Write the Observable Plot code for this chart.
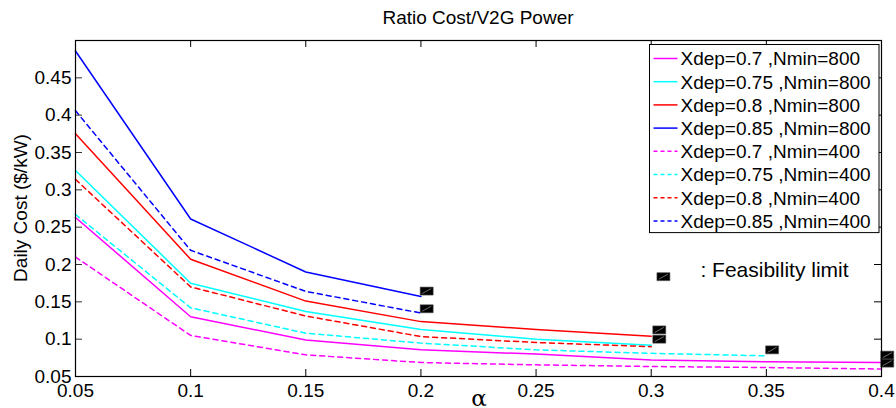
<!DOCTYPE html>
<html><head><meta charset="utf-8">
<script src="https://cdn.jsdelivr.net/npm/d3@7"></script>
<script src="https://cdn.jsdelivr.net/npm/@observablehq/plot@0.6"></script>
<style>
body{margin:0;background:#fff;}
#chart{width:896px;height:408px;overflow:hidden;}
</style></head><body><div id="chart"></div>
<script>
// ---- data ----
const alpha = [0.05, 0.1, 0.15, 0.2, 0.25, 0.3, 0.35, 0.4];
const seriesNames = [
  "Xdep=0.7 ,Nmin=800", "Xdep=0.75 ,Nmin=800", "Xdep=0.8 ,Nmin=800", "Xdep=0.85 ,Nmin=800",
  "Xdep=0.7 ,Nmin=400", "Xdep=0.75 ,Nmin=400", "Xdep=0.8 ,Nmin=400", "Xdep=0.85 ,Nmin=400"
];
const seriesColors = ["#ff00ff", "#00ffff", "#ff0000", "#0000ff", "#ff00ff", "#00ffff", "#ff0000", "#0000ff"];
const seriesDashed = [false, false, false, false, true, true, true, true];

const cost_x070_n800 = [0.263, 0.130, 0.099, 0.0857, 0.080, 0.072, 0.0697, 0.0687];
const cost_x075_n800 = [0.326, 0.175, 0.137, 0.113, 0.100, 0.092];
const cost_x080_n800 = [0.375, 0.207, 0.151, 0.1235, 0.113, 0.104];
const cost_x085_n800 = [0.486, 0.261, 0.190, 0.157];
const cost_x070_n400 = [0.210, 0.105, 0.079, 0.0687, 0.0656, 0.0634, 0.062, 0.060];
const cost_x075_n400 = [0.267, 0.142, 0.108, 0.0947, 0.0857, 0.081, 0.0777];
const cost_x080_n400 = [0.314, 0.170, 0.131, 0.1035, 0.0955, 0.090];
const cost_x085_n400 = [0.406, 0.219, 0.164, 0.135];
const seriesValues = [cost_x070_n800, cost_x075_n800, cost_x080_n800, cost_x085_n800,
                      cost_x070_n400, cost_x075_n400, cost_x080_n400, cost_x085_n400];

// feasibility-limit markers
const feasAlpha = [0.2025, 0.2025, 0.3035, 0.3035, 0.3525, 0.4025, 0.4025];
const feasCost  = [0.1644, 0.1407, 0.1124, 0.1000, 0.0857, 0.0786, 0.0679];
const feasLegendAlpha = [0.3053];
const feasLegendCost  = [0.1837];
const feasLabel = ": Feasibility limit";

const xTicks = [0.05, 0.1, 0.15, 0.2, 0.25, 0.3, 0.35, 0.4];
const xTickLabels = ["0.05", "0.1", "0.15", "0.2", "0.25", "0.3", "0.35", "0.4"];
const yTicks = [0.05, 0.1, 0.15, 0.2, 0.25, 0.3, 0.35, 0.4, 0.45];
const yTickLabels = ["0.05", "0.1", "0.15", "0.2", "0.25", "0.3", "0.35", "0.4", "0.45"];
const titleText = "Ratio Cost/V2G Power";
const xLabel = "α";
const yLabel = "Daily Cost ($/kW)";

// ---- build ----
const W = 896, H = 408;
const mL = 75, mR = 15, mT = 40, mB = 32;
const pw = W - mL - mR, ph = H - mT - mB;
const FONT = "Liberation Sans, Arial, Helvetica, sans-serif";

const lineMarks = seriesNames.map((name, i) => {
  const rows = seriesValues[i].map((v, j) => ({a: alpha[j], v}));
  return Plot.line(rows, {x: "a", y: "v", stroke: seriesColors[i], strokeWidth: 1.5,
    strokeDasharray: seriesDashed[i] ? "5,4" : null});
});

const feasRows = feasAlpha.map((a, i) => ({a, v: feasCost[i]}));
const feasLegRows = feasLegendAlpha.map((a, i) => ({a, v: feasLegendCost[i]}));
const boxSym = {draw(ctx) { ctx.rect(-6.5, -4, 13, 8); }};
const diagSym = {draw(ctx) { ctx.moveTo(-4.5, 2.5); ctx.lineTo(4.5, -2.5); }};
const xi = d => xTickLabels[xTicks.indexOf(d)];
const yi = d => yTickLabels[yTicks.indexOf(d)];

const plot = Plot.plot({
  width: W, height: H,
  marginLeft: mL, marginRight: mR, marginTop: mT, marginBottom: mB,
  style: {fontFamily: FONT, fontSize: "19px", color: "#000", background: "#fff"},
  x: {domain: [0.05, 0.4], label: null},
  y: {domain: [0.05, 0.5], label: null},
  marks: [
    ...lineMarks,
    Plot.dot(feasRows, {x: "a", y: "v", symbol: boxSym, r: 5, fill: "#000", stroke: "#555", strokeWidth: 0.6}),
    Plot.dot(feasRows, {x: "a", y: "v", symbol: diagSym, r: 5, fill: "none", stroke: "#999", strokeWidth: 0.7}),
    Plot.dot(feasLegRows, {x: "a", y: "v", symbol: boxSym, r: 5, fill: "#000", stroke: "#555", strokeWidth: 0.6}),
    Plot.dot(feasLegRows, {x: "a", y: "v", symbol: diagSym, r: 5, fill: "none", stroke: "#999", strokeWidth: 0.7}),
    Plot.text(feasLegRows, {x: "a", y: "v", text: () => feasLabel, textAnchor: "start", dx: 37, dy: -6, fontSize: 21}),
    // inside ticks
    Plot.tickX(xTicks, {x: d => d, insetTop: ph - 7, stroke: "#000"}),
    Plot.tickX(xTicks, {x: d => d, insetBottom: ph - 7, stroke: "#000"}),
    Plot.tickY(yTicks, {y: d => d, insetLeft: pw - 7, stroke: "#000"}),
    Plot.tickY(yTicks, {y: d => d, insetRight: pw - 7, stroke: "#333"}),
    Plot.frame({stroke: "#000", strokeWidth: 1.2}),
    Plot.axisX(xTicks, {tickSize: 0, tickPadding: 7, tickFormat: xi, fontSize: 19, label: null}),
    Plot.axisY(yTicks, {tickSize: 0, tickPadding: 4, tickFormat: yi, fontSize: 19, label: null})
  ]
});

const svg = d3.select(plot);
// title
svg.append("text").attr("x", mL + pw / 2).attr("y", 24).attr("text-anchor", "middle")
  .attr("font-family", FONT).attr("font-size", 19).attr("fill", "#000").text(titleText);
// y label
svg.append("text").attr("transform", `translate(27,${mT + ph / 2}) rotate(-90)`).attr("text-anchor", "middle")
  .attr("font-family", FONT).attr("font-size", 19).attr("fill", "#000").text(yLabel);
// x label
svg.append("text").attr("x", mL + pw / 2 + 1).attr("y", 406).attr("text-anchor", "middle")
  .attr("font-family", "DejaVu Serif, Liberation Serif, serif").attr("font-size", 23).attr("fill", "#000").text(xLabel);

// legend
const lg = svg.append("g");
const lx = 649.5, ly = 44.5, lw = 229.5, rowH = 23.2;
lg.append("rect").attr("x", lx).attr("y", ly).attr("width", lw).attr("height", rowH * seriesNames.length + 2.5)
  .attr("fill", "#fff").attr("stroke", "#000").attr("stroke-width", 1);
seriesNames.forEach((name, i) => {
  const cy = ly + 14 + i * rowH;
  lg.append("line").attr("x1", lx + 4).attr("x2", lx + 28).attr("y1", cy).attr("y2", cy)
    .attr("stroke", seriesColors[i]).attr("stroke-width", 1.5)
    .attr("stroke-dasharray", seriesDashed[i] ? "4,3" : null);
  lg.append("text").attr("x", lx + 31).attr("y", cy).attr("dy", "0.36em").attr("text-anchor", "start")
    .attr("font-family", FONT).attr("font-size", 19).attr("fill", "#000").text(name);
});

document.getElementById("chart").appendChild(plot);
</script></body></html>
